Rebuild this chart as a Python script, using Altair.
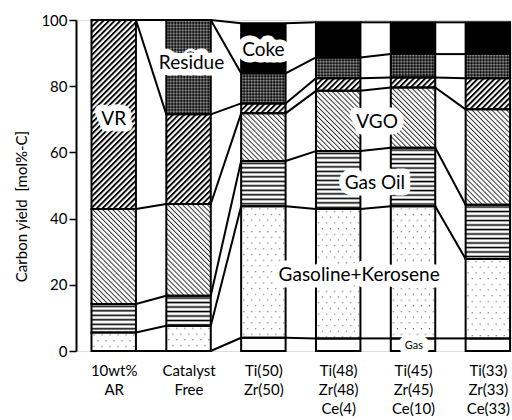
import base64
import json
import altair as alt
import pandas as pd

# ---------------- data ----------------
categories = ["10wt% AR", "Catalyst Free", "Ti(50)Zr(50)", "Ti(48)Zr(48)Ce(4)",
              "Ti(45)Zr(45)Ce(10)", "Ti(33)Zr(33)Ce(33)"]
x_labels = [["10wt%", "AR"], ["Catalyst", "Free"], ["Ti(50)", "Zr(50)"],
            ["Ti(48)", "Zr(48)", "Ce(4)"], ["Ti(45)", "Zr(45)", "Ce(10)"],
            ["Ti(33)", "Zr(33)", "Ce(33)"]]
fractions = ["Gas", "Gasoline+Kerosene", "Gas Oil", "VGO", "VR", "Residue", "Coke"]

gas = [0.0, 0.0, 4.0, 3.8, 3.8, 3.8]
gasoline_kerosene = [5.6, 7.6, 39.7, 39.1, 39.9, 24.0]
gas_oil = [8.6, 9.1, 13.7, 17.5, 17.7, 16.4]
vgo = [28.7, 27.7, 14.4, 18.2, 18.2, 28.8]
vr = [57.1, 27.1, 3.0, 3.8, 3.0, 9.4]
residue = [0.0, 28.5, 9.1, 6.3, 7.1, 7.3]
coke = [0.0, 0.0, 15.1, 10.6, 9.6, 9.6]

series = [gas, gasoline_kerosene, gas_oil, vgo, vr, residue, coke]

# annotation labels
label_text = ["VR", "Residue", "Coke", "VGO", "Gas Oil", "Gasoline+Kerosene", "Gas"]
label_x = [0.0, 1.04, 2.0, 3.52, 3.49, 3.28, 4.01]
label_y = [70.0, 87.0, 90.9, 69.1, 50.9, 23.0, 1.5]
label_size = [19, 19, 19, 19, 19, 19, 11]

# ---------------- styles ----------------
grays = ["#ffffff", "#f0f0f0", "#8c8c8c", "#b0b0b0", "#5a5a5a", "#333333", "#000000"]
FONT = "Lato"
HALF = 0.297


def svg_uri(body, w, h, transform=""):
    tf = f' patternTransform="{transform}"' if transform else ""
    s = ('<svg xmlns="http://www.w3.org/2000/svg" width="100%" height="100%">'
         f'<defs><pattern id="p" patternUnits="userSpaceOnUse" width="{w}" height="{h}"{tf}>'
         f'{body}</pattern></defs>'
         '<rect x="0" y="0" width="100%" height="100%" fill="url(#p)"/></svg>')
    return "data:image/svg+xml;base64," + base64.b64encode(s.encode()).decode()


patterns = {
    "Gas": svg_uri('<rect width="4" height="4" fill="#fff"/>', 4, 4),
    "Gasoline+Kerosene": svg_uri(
        '<rect width="8" height="11.4" fill="#fff"/>'
        '<rect x="2" y="2" width="1.1" height="1.1" fill="#555"/>'
        '<rect x="6" y="7.7" width="1.1" height="1.1" fill="#555"/>', 8, 11.4),
    "Gas Oil": svg_uri(
        '<rect width="4" height="4.5" fill="#fff"/>'
        '<rect y="1.5" width="4" height="1.6" fill="#000"/>', 4, 4.5),
    "VGO": svg_uri(
        '<rect width="3.5" height="4" fill="#fff"/>'
        '<rect width="1.0" height="4" fill="#333"/>', 3.5, 4, "rotate(-45)"),
    "VR": svg_uri(
        '<rect width="4" height="4" fill="#fff"/>'
        '<rect width="1.9" height="4" fill="#000"/>', 4, 4, "rotate(45)"),
    "Residue": svg_uri(
        '<rect width="3" height="3" fill="#111"/>'
        '<rect x="1" width="0.9" height="3" fill="#666"/>'
        '<rect y="1" width="3" height="0.9" fill="#666"/>'
        '<rect x="1" y="1" width="0.9" height="0.9" fill="#ddd"/>', 3, 3),
    "Coke": svg_uri('<rect width="4" height="4" fill="#000"/>', 4, 4),
}

# ---------------- tables ----------------
seg_rows = []
cums = []
for i in range(len(categories)):
    c = 0.0
    tops = []
    for k, f in enumerate(fractions):
        v = series[k][i]
        seg_rows.append({"idx": i, "fraction": f, "order": k, "lo": c, "hi": c + v,
                         "v": v, "url": patterns[f]})
        c += v
        tops.append(c)
    cums.append(tops)
seg = pd.DataFrame(seg_rows)
seg = seg[seg["v"] > 0]

line_rows = []
for i in range(len(categories) - 1):
    for k in range(len(fractions)):
        line_rows.append({"idx": i, "ya": cums[i][k], "yb": cums[i + 1][k]})
lines = pd.DataFrame(line_rows)

labels = pd.DataFrame({"text": label_text, "lx": label_x, "ly": label_y, "fs": label_size})

# ---------------- encodings ----------------
xscale = alt.Scale(domain=[-0.504, 5.296], nice=False, zero=False)
yscale = alt.Scale(domain=[0, 100], nice=False)
xaxis = alt.Axis(values=[0, 1, 2, 3, 4, 5], ticks=False, domain=False, grid=False,
                 labelExpr=json.dumps(x_labels) + "[round(datum.value)]",
                 labelFont=FONT, labelFontSize=15, labelColor="black",
                 labelPadding=12, labelLineHeight=19, labelBaseline="top",
                 labelFlush=False, labelOverlap=False, title=None)
yaxis = alt.Axis(values=[0, 20, 40, 60, 80, 100], grid=False, domain=True,
                 domainColor="black", domainWidth=2, tickColor="black", tickWidth=1.5,
                 tickSize=7, labelFont=FONT, labelFontSize=15, labelColor="black",
                 labelPadding=2, title="Carbon yield\u00a0\u00a0[mol%-C]", titleFont=FONT,
                 titleFontSize=15, titleFontWeight="normal", titleColor="black",
                 titleAngle=270, titleX=-55, titleY=186, titleAlign="center",
                 titleBaseline="middle")


def X(f):
    return alt.X(f, type="quantitative", scale=xscale, axis=xaxis)


def Y(f):
    return alt.Y(f, type="quantitative", scale=yscale, axis=yaxis)


base_seg = alt.Chart(seg).transform_calculate(
    xl=f"datum.idx - {HALF}", xr=f"datum.idx + {HALF}")

fill_layer = base_seg.mark_rect().encode(
    x=X("xl"), x2="xr", y=Y("lo"), y2="hi",
    color=alt.Color("fraction:N", scale=alt.Scale(domain=fractions, range=grays), legend=None))

image_layer = base_seg.mark_image(aspect=False).encode(
    x=X("xl"), x2="xr", y=Y("lo"), y2="hi", url="url:N")

outline_layer = base_seg.mark_rect(fill="white", fillOpacity=0, stroke="black",
                                   strokeWidth=2).encode(
    x=X("xl"), x2="xr", y=Y("lo"), y2="hi")

rule_layer = alt.Chart(lines).transform_calculate(
    xa=f"datum.idx + {HALF}", xb=f"datum.idx + 1 - {HALF}").mark_rule(
    color="black", strokeWidth=2).encode(x=X("xa"), x2="xb", y=Y("ya"), y2="yb")

halo_layer = alt.Chart(labels).mark_text(font=FONT, color="white", stroke="white",
                                         strokeWidth=13, strokeJoin="round",
                                         baseline="middle").encode(
    x=X("lx"), y=Y("ly"), text="text:N", size=alt.Size("fs:Q", scale=None))

text_layer = alt.Chart(labels).mark_text(font=FONT, color="black",
                                         baseline="middle").encode(
    x=X("lx"), y=Y("ly"), text="text:N", size=alt.Size("fs:Q", scale=None))

chart = alt.layer(fill_layer, image_layer, outline_layer, rule_layer, halo_layer,
                  text_layer).properties(
    width=434, height=331,
    padding={"left": 76, "top": 20, "right": 2, "bottom": 69},
    autosize=alt.AutoSizeParams(type="none"),
).configure_view(stroke="black", strokeWidth=2).configure(background="white")

chart.save("out.html", embed_options={"renderer": "svg", "actions": False})
